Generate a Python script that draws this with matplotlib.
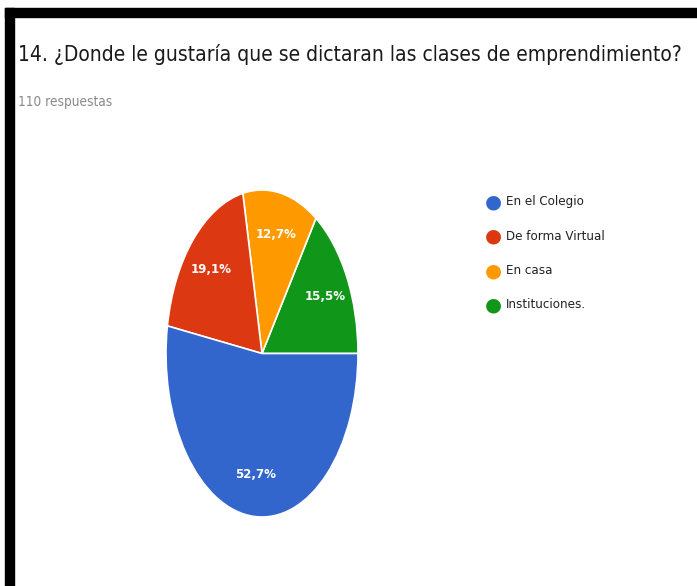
import matplotlib.pyplot as plt
from matplotlib.patches import Rectangle
from matplotlib.font_manager import FontProperties, findfont

title = "14. ¿Donde le gustaría que se dictaran las clases de emprendimiento?"
subtitle = "110 respuestas"
labels = ["En el Colegio", "De forma Virtual", "En casa", "Instituciones."]
values = [52.7, 19.1, 12.7, 15.5]
colors = ["#3366CC", "#DC3912", "#FF9900", "#109618"]

# narrow face if one is available, otherwise Roboto
cond = findfont(FontProperties(family="DejaVu Sans", stretch="condensed"))
if "Condensed" in cond:
    FONT = dict(family=["DejaVu Sans"], fontstretch="condensed")
else:
    FONT = dict(family=["Roboto", "DejaVu Sans"])

fig = plt.figure(figsize=(6.97, 5.86), dpi=100)
W, H = 697, 586
renderer = fig.canvas.get_renderer()


def fit(txt, width_px):
    # scale a text's font size so it spans the given width in pixels
    w = txt.get_window_extent(renderer).width
    txt.set_fontsize(txt.get_fontsize() * width_px / w)
    return txt


# black frame on top and left
fig.patches.append(Rectangle((5 / W, 0), 9 / W, 1 - 8 / H, transform=fig.transFigure,
                             color="black", zorder=0))
fig.patches.append(Rectangle((5 / W, 1 - 17 / H), 1, 9 / H, transform=fig.transFigure,
                             color="black", zorder=0))

t = fig.text(18 / W, 1 - 61 / H, title, fontsize=18, color="#1a1a1a",
             va="baseline", **FONT)
fit(t, 662)
s = fig.text(18 / W, 1 - 106 / H, subtitle, fontsize=10, color="#8a8a8a",
             va="baseline", **FONT)
fit(s, 94)

# pie drawn in a tall axes so it comes out as an ellipse
ax = fig.add_axes([166 / W, 69 / H, 192 / W, 327 / H])
order = [3, 2, 1, 0]
wedges, texts, autotexts = ax.pie(
    [values[i] for i in order],
    colors=[colors[i] for i in order],
    startangle=0, counterclock=True,
    autopct=lambda p: f"{p:.1f}%".replace(".", ","),
    pctdistance=0.74,
    wedgeprops=dict(edgecolor="white", linewidth=1.2),
    textprops=dict(color="white", fontsize=10, fontweight="bold", **FONT),
)
ax.set_aspect("auto")
ax.set_xlim(-1, 1)
ax.set_ylim(-1, 1)
for a in autotexts:
    fit(a, 41)

# legend
probe = fig.text(0, 0, labels[1], fontsize=10, **FONT)
fit(probe, 98)
legend_size = probe.get_fontsize()
probe.remove()
for k, (lab, col) in enumerate(zip(labels, colors)):
    y = 1 - (202 + 34.3 * k) / H
    fig.text(493 / W, y, "\u25CF", color=col, fontsize=14, ha="center", va="center",
             family="DejaVu Sans")
    fig.text(506 / W, y, lab, color="#222222", fontsize=legend_size, va="center", **FONT)

fig.savefig("out.png", dpi=100)
